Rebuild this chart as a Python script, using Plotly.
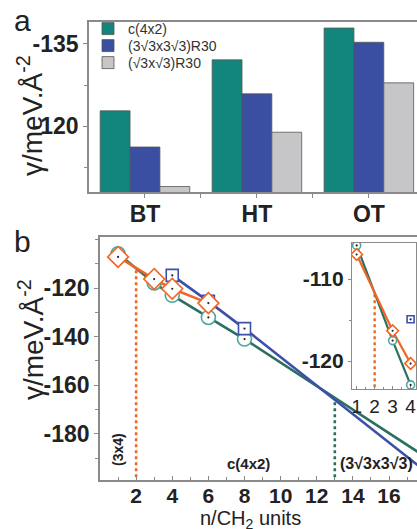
import plotly.graph_objects as go

W, H = 417, 529
FONT = "Liberation Sans, Arial, sans-serif"

# ---------------- Panel a data ----------------
sites = ["BT", "HT", "OT"]
site_pos = [0, 1, 2]
bar_names = ["c(4x2)", "(3√3x3√3)R30", "(√3x√3)R30"]
gamma_c4x2 = [-122.8, -132.1, -137.9]
gamma_3r3 = [-116.2, -125.9, -135.3]
gamma_r3 = [-109.0, -118.9, -127.9]
bar_colors = ["#12867c", "#3a4ea2", "#c6c6c8"]
a_ticks = [-135, -120]

# ---------------- Panel b data ----------------
n_c4x2 = [1, 3, 4, 6, 8]
g_c4x2 = [-105.9, -117.9, -123.0, -132.1, -141.0]
n_3r3 = [4, 6, 8]
g_3r3 = [-114.8, -125.5, -136.7]
n_3x4 = [1, 3, 4, 6]
g_3x4 = [-107.2, -116.3, -120.3, -126.2]
# linear extrapolations
n_ext = [8, 18]
g_ext_c4x2 = [-141.0, -189.4]
g_ext_3r3 = [-136.7, -195.3]
# phase transitions (dotted drop lines)
n_trans_3x4 = [2, 2]
g_trans_3x4 = [-230, -111.8]
n_trans_c4x2 = [13, 13]
g_trans_c4x2 = [-230, -166.0]
b_ticks = [-120, -140, -160, -180]
n_ticks = [2, 4, 6, 8, 10, 12, 14, 16]
# inset data (same series, small n)
n_in = [1, 3, 4]
g_in_c4x2 = [-105.9, -117.5, -122.9]
g_in_3x4 = [-107.0, -116.3, -120.3]
n_in_3r3 = [4]
g_in_3r3 = [-114.9]
in_ticks = [-110, -120]
in_n_ticks = [1, 2, 3, 4]

TEAL_LINE = "#2a6f60"
TEAL_MK = "#4fa59e"
BLUE = "#3c50aa"
ORANGE = "#f26522"
AXC = "#8a8a8a"

fig = go.Figure()

# ---- bars (one legend box per series so the rows sit 17px apart)
legend_ids = ["legend", "legend2", "legend3"]
for name, vals, col, lg in zip(bar_names, [gamma_c4x2, gamma_3r3, gamma_r3], bar_colors, legend_ids):
    fig.add_trace(go.Bar(x=site_pos, y=vals, name=name, legend=lg,
                         marker=dict(color=col, line=dict(color="#555555", width=0.8)),
                         xaxis="x", yaxis="y", showlegend=True))

# ---- panel b lines
def line(x, y, color, width=2.6, dash="solid", xa="x2", ya="y2"):
    fig.add_trace(go.Scatter(x=x, y=y, mode="lines", line=dict(color=color, width=width, dash=dash),
                             xaxis=xa, yaxis=ya, showlegend=False, hoverinfo="skip"))

def marks(x, y, symbol, color, size, xa="x2", ya="y2"):
    fig.add_trace(go.Scatter(x=x, y=y, mode="markers",
                             marker=dict(symbol=symbol, size=size, color="white", line=dict(color=color, width=1.6)),
                             xaxis=xa, yaxis=ya, showlegend=False))
    fig.add_trace(go.Scatter(x=x, y=y, mode="markers", marker=dict(size=2.2, color="#222222"),
                             xaxis=xa, yaxis=ya, showlegend=False, hoverinfo="skip"))

line(n_trans_3x4, g_trans_3x4, ORANGE, 2.6, "dot")
line(n_trans_c4x2, g_trans_c4x2, TEAL_LINE, 2.6, "dot")
line(n_ext, g_ext_c4x2, TEAL_LINE)
line(n_ext, g_ext_3r3, BLUE)
line(n_c4x2, g_c4x2, TEAL_LINE)
line(n_3r3, g_3r3, BLUE)
line(n_3x4, g_3x4, ORANGE)
marks(n_c4x2, g_c4x2, "circle", TEAL_MK, 14)
marks(n_3r3, g_3r3, "square", BLUE, 12)
marks(n_3x4, g_3x4, "diamond", ORANGE, 16)

# ---- inset
line(n_trans_3x4, g_trans_3x4, ORANGE, 2.4, "dot", "x3", "y3")
line(n_in, g_in_c4x2, TEAL_LINE, 2.2, "solid", "x3", "y3")
line(n_in, g_in_3x4, ORANGE, 2.2, "solid", "x3", "y3")
marks(n_in, g_in_c4x2, "circle", TEAL_MK, 8, "x3", "y3")
marks(n_in, g_in_3x4, "diamond", ORANGE, 9, "x3", "y3")
marks(n_in_3r3, g_in_3r3, "square", BLUE, 7, "x3", "y3")

tickf = dict(family=FONT, size=23, color="#222222", weight="bold")
tickf_b = dict(family=FONT, size=21, color="#222222", weight="bold")
ax_common = dict(showline=True, linecolor=AXC, linewidth=1.5, showgrid=False, zeroline=False,
                 ticks="outside", tickcolor=AXC, ticklen=4, tickwidth=1.2)

leg_common = dict(x=88 / W, xanchor="left", yanchor="middle", bgcolor="rgba(0,0,0,0)",
                  font=dict(family=FONT, size=14, color="#333333"))

def hy(vals):
    return [str(v) for v in vals]

fig.update_layout(
    width=W, height=H, margin=dict(l=0, r=0, t=0, b=0),
    paper_bgcolor="white", plot_bgcolor="white",
    font=dict(family=FONT, color="#222222"),
    barmode="group", bargap=0.2, bargroupgap=0,
    xaxis=dict(domain=[89 / W, 1], anchor="y", range=[-0.5, 2.43], tickvals=site_pos, ticktext=sites,
               tickfont=tickf, mirror=True, ticklabelstandoff=-3,
               minor=dict(tickvals=[0.5, 1.5], ticks="outside", ticklen=4, tickcolor=AXC),
               **ax_common),
    yaxis=dict(domain=[1 - 192 / H, 1 - 22 / H], anchor="x", range=[-108, -139], tickvals=a_ticks,
               ticktext=hy(a_ticks),
               tickfont=tickf, minor=dict(dtick=7.5, ticks="outside", ticklen=3, tickcolor=AXC), **ax_common),
    xaxis2=dict(domain=[100 / W, 1], anchor="y2", range=[0, 17.55], tickvals=n_ticks, tickfont=tickf_b,
                mirror=True, showline=True, linecolor=AXC, linewidth=1.5, showgrid=False, zeroline=False,
                ticks="inside", tickcolor=AXC, ticklen=4, tickwidth=1.2, ticklabelstandoff=-4,
                minor=dict(dtick=1, ticks="inside", ticklen=3, tickcolor=AXC)),
    yaxis2=dict(domain=[1 - 480 / H, 1 - 237 / H], anchor="x2", range=[-199, -99], tickvals=b_ticks,
                ticktext=hy(b_ticks),
                tickfont=tickf, minor=dict(dtick=10, ticks="outside", ticklen=3, tickcolor=AXC), **ax_common),
    xaxis3=dict(domain=[352 / W, 416 / W], anchor="y3", range=[0.74, 4.3], tickvals=in_n_ticks,
                tickfont=dict(family=FONT, size=19, color="#222222"), mirror=True, showline=True,
                linecolor=AXC, linewidth=1.2, showgrid=False, zeroline=False, ticks="inside",
                tickcolor=AXC, ticklen=3, minor=dict(dtick=0.5, ticks="inside", ticklen=2, tickcolor=AXC)),
    yaxis3=dict(domain=[1 - 389 / H, 1 - 243 / H], anchor="x3", range=[-123.4, -105.6], tickvals=in_ticks,
                ticktext=hy(in_ticks),
                tickfont=dict(family=FONT, size=21, color="#222222", weight="bold"), mirror=True, showline=True,
                linecolor=AXC, linewidth=1.2, showgrid=False, zeroline=False, ticks="outside",
                tickcolor=AXC, ticklen=3, minor=dict(dtick=5, ticks="outside", ticklen=2, tickcolor=AXC)),
    legend=dict(y=1 - 29 / H, **leg_common),
    legend2=dict(y=1 - 46 / H, **leg_common),
    legend3=dict(y=1 - 63 / H, **leg_common),
    showlegend=True,
)

ytitle = "γ/meV.Å<sup>-2</sup>"
ann = [
    dict(text="a", x=22 / W, y=1 - 20 / H, font=dict(size=30)),
    dict(text="b", x=22 / W, y=1 - 242 / H, font=dict(size=30)),
    dict(text=ytitle, x=30 / W, y=1 - 116 / H, textangle=-90, font=dict(size=28)),
    dict(text=ytitle, x=31 / W, y=1 - 340 / H, textangle=-90, font=dict(size=28)),
    dict(text="n/CH<sub>2</sub> units", x=250 / W, y=1 - 519 / H, font=dict(size=20)),
    dict(text="(3x4)", x=118 / W, y=1 - 450 / H, textangle=-90, font=dict(size=14, weight="bold")),
    dict(text="c(4x2)", x=248 / W, y=1 - 463 / H, font=dict(size=15, weight="bold")),
    dict(text="(3√3x3√3)", x=338 / W, y=1 - 463 / H, xanchor="left", font=dict(size=16, weight="bold")),
]
for a in ann:
    a.setdefault("xanchor", "center")
    fig.add_annotation(xref="paper", yref="paper", showarrow=False, yanchor="middle",
                       font_family=FONT, font_color="#222222", **{k: v for k, v in a.items()})

fig.write_html("out.html", config={"displayModeBar": False},
               post_script="document.body.style.margin='0px';")
